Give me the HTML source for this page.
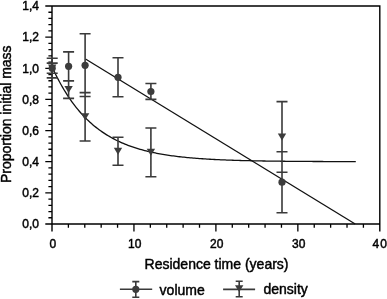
<!DOCTYPE html>
<html><head><meta charset="utf-8"><style>
html,body{margin:0;padding:0;background:#fff;width:387px;height:299px;overflow:hidden}
svg{display:block;will-change:transform}
text{font-family:"Liberation Sans", sans-serif;stroke:#000;stroke-width:0.45px}
</style></head><body>
<svg width="387" height="299" viewBox="0 0 387 299" font-family='"Liberation Sans", sans-serif' font-size="12" fill="#000"><path d="M45.30 6.00H379.80V231.50M379.80 224.00H45.30M52.00 6.00V231.50" stroke="#000" stroke-width="1.4" fill="none"/>
<path d="M48.40 217.77H52.00M48.40 211.54H52.00M48.40 205.31H52.00M48.40 199.09H52.00M45.30 192.86H52.00M48.40 186.63H52.00M48.40 180.40H52.00M48.40 174.17H52.00M48.40 167.94H52.00M45.30 161.71H52.00M48.40 155.49H52.00M48.40 149.26H52.00M48.40 143.03H52.00M48.40 136.80H52.00M45.30 130.57H52.00M48.40 124.34H52.00M48.40 118.11H52.00M48.40 111.89H52.00M48.40 105.66H52.00M45.30 99.43H52.00M48.40 93.20H52.00M48.40 86.97H52.00M48.40 80.74H52.00M48.40 74.51H52.00M45.30 68.29H52.00M48.40 62.06H52.00M48.40 55.83H52.00M48.40 49.60H52.00M48.40 43.37H52.00M45.30 37.14H52.00M48.40 30.91H52.00M48.40 24.69H52.00M48.40 18.46H52.00M48.40 12.23H52.00M68.39 224.00V227.80M84.78 224.00V227.80M101.17 224.00V227.80M117.56 224.00V227.80M133.95 224.00V231.50M150.34 224.00V227.80M166.73 224.00V227.80M183.12 224.00V227.80M199.51 224.00V227.80M215.90 224.00V231.50M232.29 224.00V227.80M248.68 224.00V227.80M265.07 224.00V227.80M281.46 224.00V227.80M297.85 224.00V231.50M314.24 224.00V227.80M330.63 224.00V227.80M347.02 224.00V227.80M363.41 224.00V227.80" stroke="#000" stroke-width="1.3" fill="none"/>
<polyline points="52.00,66.72 53.52,70.00 55.04,73.16 56.56,76.21 58.08,79.16 59.59,82.01 61.11,84.76 62.63,87.41 64.15,89.98 65.67,92.45 67.19,94.84 68.71,97.14 70.23,99.37 71.75,101.52 73.27,103.60 74.78,105.60 76.30,107.54 77.82,109.40 79.34,111.21 80.86,112.95 82.38,114.63 83.90,116.26 85.42,117.82 86.94,119.34 88.45,120.80 89.97,122.21 91.49,123.57 93.01,124.89 94.53,126.16 96.05,127.38 97.57,128.57 99.09,129.71 100.61,130.81 102.13,131.88 103.64,132.91 105.16,133.90 106.68,134.86 108.20,135.79 109.72,136.68 111.24,137.54 112.76,138.38 114.28,139.18 115.80,139.96 117.31,140.71 118.83,141.43 120.35,142.13 121.87,142.81 123.39,143.46 124.91,144.09 126.43,144.70 127.95,145.28 129.47,145.85 130.99,146.40 132.50,146.92 134.02,147.43 135.54,147.93 137.06,148.40 138.58,148.86 140.10,149.30 141.62,149.73 143.14,150.14 144.66,150.54 146.17,150.93 147.69,151.30 149.21,151.66 150.73,152.01 152.25,152.34 153.77,152.66 155.29,152.97 156.81,153.28 158.33,153.57 159.84,153.85 161.36,154.12 162.88,154.38 164.40,154.63 165.92,154.88 167.44,155.11 168.96,155.34 170.48,155.56 172.00,155.77 173.52,155.98 175.03,156.17 176.55,156.36 178.07,156.55 179.59,156.73 181.11,156.90 182.63,157.06 184.15,157.22 185.67,157.38 187.19,157.53 188.70,157.67 190.22,157.81 191.74,157.95 193.26,158.08 194.78,158.20 196.30,158.32 197.82,158.44 199.34,158.55 200.86,158.66 202.38,158.77 203.89,158.87 205.41,158.96 206.93,159.06 208.45,159.15 209.97,159.24 211.49,159.32 213.01,159.41 214.53,159.49 216.05,159.56 217.56,159.64 219.08,159.71 220.60,159.78 222.12,159.84 223.64,159.91 225.16,159.97 226.68,160.03 228.20,160.09 229.72,160.14 231.24,160.20 232.75,160.25 234.27,160.30 235.79,160.35 237.31,160.39 238.83,160.44 240.35,160.48 241.87,160.53 243.39,160.57 244.91,160.61 246.42,160.64 247.94,160.68 249.46,160.72 250.98,160.75 252.50,160.78 254.02,160.81 255.54,160.85 257.06,160.88 258.58,160.90 260.10,160.93 261.61,160.96 263.13,160.98 264.65,161.01 266.17,161.03 267.69,161.06 269.21,161.08 270.73,161.10 272.25,161.12 273.77,161.14 275.28,161.16 276.80,161.18 278.32,161.20 279.84,161.22 281.36,161.23 282.88,161.25 284.40,161.26 285.92,161.28 287.44,161.29 288.96,161.31 290.47,161.32 291.99,161.34 293.51,161.35 295.03,161.36 296.55,161.37 298.07,161.38 299.59,161.40 301.11,161.41 302.63,161.42 304.14,161.43 305.66,161.44 307.18,161.45 308.70,161.45 310.22,161.46 311.74,161.47 313.26,161.48 314.78,161.49 316.30,161.50 317.82,161.50 319.33,161.51 320.85,161.52 322.37,161.52 323.89,161.53 325.41,161.54 326.93,161.54 328.45,161.55 329.97,161.55 331.49,161.56 333.00,161.56 334.52,161.57 336.04,161.57 337.56,161.58 339.08,161.58 340.60,161.59 342.12,161.59 343.64,161.59 345.16,161.60 346.67,161.60 348.19,161.61 349.71,161.61 351.23,161.61 352.75,161.62 354.27,161.62 355.79,161.62" stroke="#111" stroke-width="1.3" fill="none"/>
<path d="M85.5 59L355.2 224" stroke="#111" stroke-width="1.3" fill="none"/>
<path d="M52.20 63.10V73.20M46.70 63.10h11M46.70 73.20h11M68.60 51.90V80.70M63.10 51.90h11M63.10 80.70h11M85.10 33.80V96.50M79.60 33.80h11M79.60 96.50h11M118.00 57.80V96.80M112.50 57.80h11M112.50 96.80h11M150.90 83.50V99.40M145.40 83.50h11M145.40 99.40h11M282.00 151.70V212.70M276.50 151.70h11M276.50 212.70h11M52.20 58.20V77.90M46.70 58.20h11M46.70 77.90h11M68.60 80.90V98.40M63.10 80.90h11M63.10 98.40h11M85.10 92.60V141.00M79.60 92.60h11M79.60 141.00h11M118.00 137.20V165.30M112.50 137.20h11M112.50 165.30h11M150.90 128.00V176.70M145.40 128.00h11M145.40 176.70h11M282.00 101.60V172.30M276.50 101.60h11M276.50 172.30h11" stroke="#3a3a3a" stroke-width="1.6" fill="none"/>
<circle cx="52.20" cy="68.15" r="3.6" fill="#3c3c3c"/>
<circle cx="68.60" cy="66.30" r="3.6" fill="#3c3c3c"/>
<circle cx="85.10" cy="65.30" r="3.6" fill="#3c3c3c"/>
<circle cx="118.00" cy="77.30" r="3.6" fill="#3c3c3c"/>
<circle cx="150.90" cy="91.50" r="3.6" fill="#3c3c3c"/>
<circle cx="282.00" cy="182.20" r="3.6" fill="#3c3c3c"/>
<path d="M48.00 64.55H56.40L52.20 71.55Z" fill="#3c3c3c"/>
<path d="M64.40 86.10H72.80L68.60 93.10Z" fill="#3c3c3c"/>
<path d="M80.90 113.30H89.30L85.10 120.30Z" fill="#3c3c3c"/>
<path d="M113.80 147.70H122.20L118.00 154.70Z" fill="#3c3c3c"/>
<path d="M146.70 148.85H155.10L150.90 155.85Z" fill="#3c3c3c"/>
<path d="M277.80 133.45H286.20L282.00 140.45Z" fill="#3c3c3c"/>
<text x="39" y="228.30" text-anchor="end">0,0</text>
<text x="39" y="197.16" text-anchor="end">0,2</text>
<text x="39" y="166.01" text-anchor="end">0,4</text>
<text x="39" y="134.87" text-anchor="end">0,6</text>
<text x="39" y="103.73" text-anchor="end">0,8</text>
<text x="39" y="72.59" text-anchor="end">1,0</text>
<text x="39" y="41.44" text-anchor="end">1,2</text>
<text x="39" y="10.30" text-anchor="end">1,4</text>
<text x="52.80" y="247.5" text-anchor="middle">0</text>
<text x="134.75" y="247.5" text-anchor="middle">10</text>
<text x="216.70" y="247.5" text-anchor="middle">20</text>
<text x="298.65" y="247.5" text-anchor="middle">30</text>
<text x="372.4 380.2" y="247.5">40</text>
<text x="216.55" y="268.5" text-anchor="middle" font-size="14">Residence time (years)</text>
<text transform="translate(10.5 114.25) rotate(-90)" text-anchor="middle" font-size="14">Proportion initial mass</text>
<path d="M119.9 289.3H152.2M135.8 281.6V297.3M132.3 281.6h7M132.3 297.3h7" stroke="#3a3a3a" stroke-width="1.6" fill="none"/>
<circle cx="135.8" cy="289.3" r="3.6" fill="#3c3c3c"/>
<text x="159.6" y="294.7" font-size="14">volume</text>
<path d="M223.1 289.4H255.1M239.2 281.2V296.7M235.7 281.2h7M235.7 296.7h7" stroke="#3a3a3a" stroke-width="1.6" fill="none"/>
<path d="M235.00 285.3H243.40L239.2 292.1Z" fill="#3c3c3c"/>
<text x="263.5" y="294.0" font-size="14">density</text></svg>
</body></html>
